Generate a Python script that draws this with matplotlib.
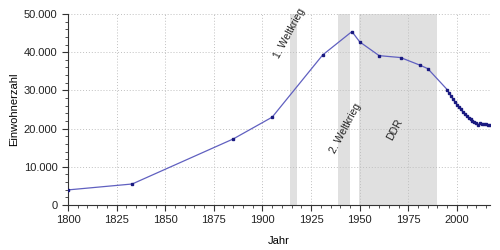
import numpy as np
import matplotlib.pyplot as plt
from matplotlib.ticker import MultipleLocator, FuncFormatter

plt.rcParams['font.family'] = ['Liberation Sans', 'DejaVu Sans']

# population data
years = [1800, 1833, 1885, 1905, 1931, 1946, 1950, 1960, 1971, 1981, 1985,
         1995, 1996, 1997, 1998, 1999, 2000, 2001, 2002, 2003, 2004, 2005,
         2006, 2007, 2008, 2009, 2010, 2011, 2012, 2013, 2014, 2015, 2016, 2017]
pop = [3950, 5500, 17300, 23000, 39300, 45400, 42700, 39100, 38600, 36600, 35700,
       30200, 29300, 28500, 27700, 27000, 26300, 25600, 25000, 24400, 23900, 23400,
       22900, 22500, 22100, 21700, 21400, 21000, 21500, 21300, 21200, 21100, 21000, 20900]

# shaded periods
periods = [(1914, 1918), (1939, 1945), (1949.75, 1990)]
period_labels = ['1. Weltkrieg', '2. Weltkrieg', 'DDR']
label_pos = [(1914, 45000), (1942.5, 20000), (1968, 19600)]

fig = plt.figure(figsize=(5, 2.5), dpi=100)
ax = fig.add_axes([0.136, 0.18, 0.844, 0.764])

for (a, b) in periods:
    ax.axvspan(a, b, color='#e0e0e0', lw=0, zorder=0)
for txt, (x, y) in zip(period_labels, label_pos):
    ax.text(x, y, txt, rotation=62, ha='center', va='center', fontsize=7.5, color='#222222')

ax.plot(years, pop, color='#6060c0', lw=0.9, zorder=3)
ax.plot(years, pop, ls='none', marker='s', ms=1.8, color='#1a1a80', zorder=4)

ax.set_xlim(1800, 2017)
ax.set_ylim(0, 50000)
ax.xaxis.set_major_locator(MultipleLocator(25))
ax.xaxis.set_minor_locator(MultipleLocator(5))
ax.yaxis.set_major_locator(MultipleLocator(10000))
ax.yaxis.set_minor_locator(MultipleLocator(2000))
ax.yaxis.set_major_formatter(FuncFormatter(lambda v, p: f'{int(v):,}'.replace(',', '.')))

ax.grid(True, which='major', ls=(0, (1, 2)), color='#c0c0c0', lw=0.7)
ax.set_axisbelow(True)
for s in ['top', 'right']:
    ax.spines[s].set_visible(False)
ax.spines['left'].set_color('#333333')
ax.spines['bottom'].set_color('#333333')
ax.tick_params(which='major', length=4, labelsize=8, colors='#333333', labelcolor='#222222')
ax.tick_params(which='minor', length=2, colors='#333333')

ax.set_xlabel('Jahr', fontsize=8)
ax.set_ylabel('Einwohnerzahl', fontsize=8)
ax.xaxis.set_label_coords(0.5, -0.16)
ax.yaxis.set_label_coords(-0.115, 0.5)

fig.savefig('out.png', dpi=100)
